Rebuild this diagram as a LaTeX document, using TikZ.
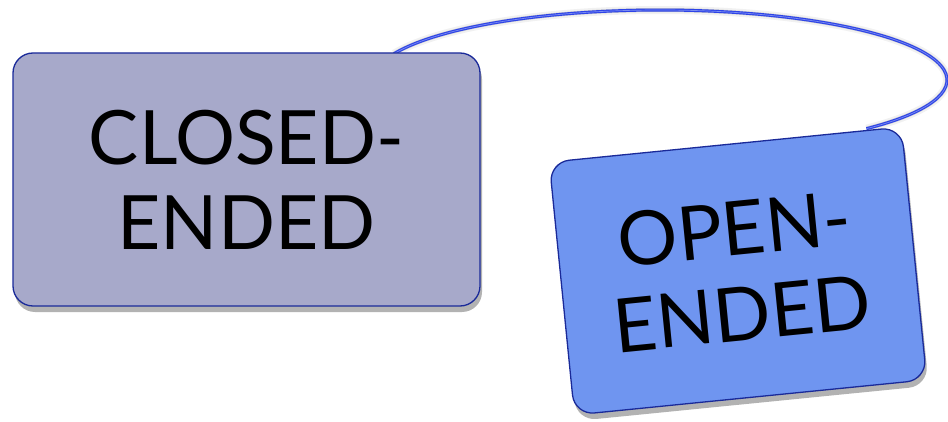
\documentclass[tikz,border=0pt]{standalone}
\usepackage{fontspec}
\setmainfont{Lato}
\usetikzlibrary{shadows}
\definecolor{closedfill}{HTML}{A7A9CA}
\definecolor{openfill}{HTML}{6F95F0}
\definecolor{boxborder}{HTML}{1A2A99}
\definecolor{stringblue}{HTML}{2E44E8}
\definecolor{stringlight}{HTML}{7A8CF2}
\tikzset{
  tag/.style={draw=boxborder, line width=1.3pt, rounded corners=20pt, align=center,
    inner sep=0pt, font=\fontsize{75}{85}\selectfont,
    drop shadow={shadow xshift=2pt, shadow yshift=-6pt, opacity=0.3, fill=black}},
  stringline/.style={draw=stringblue, line width=3pt},
  stringcore/.style={draw=stringlight, line width=0.7pt},
  stringshadow/.style={draw=black!45, line width=4pt, opacity=0.35}
}
\begin{document}
\begin{tikzpicture}[x=1pt,y=1pt]
\useasboundingbox (0,0) rectangle (948,421);
\coordinate (s) at (393.9,367.2);
\draw[stringshadow, yshift=-6pt, line width=8pt, opacity=0.12] (s) arc[start angle=158, end angle=-44, x radius=287, y radius=70];
\draw[stringshadow, yshift=-5pt] (s) arc[start angle=158, end angle=-44, x radius=287, y radius=70];
\draw[stringline] (s) arc[start angle=158, end angle=-44, x radius=287, y radius=70] coordinate (e);
\draw[stringcore] (s) arc[start angle=158, end angle=-44, x radius=287, y radius=70];
\node[tag, fill=closedfill, minimum width=467pt, minimum height=253pt] (closed) at (246.5,241.5) {CLOSED-\\ENDED};
\node[tag, fill=openfill, minimum width=354pt, minimum height=254pt, rotate=5.7] (open) at (738,150) {OPEN-\\ENDED};
\end{tikzpicture}
\end{document}
